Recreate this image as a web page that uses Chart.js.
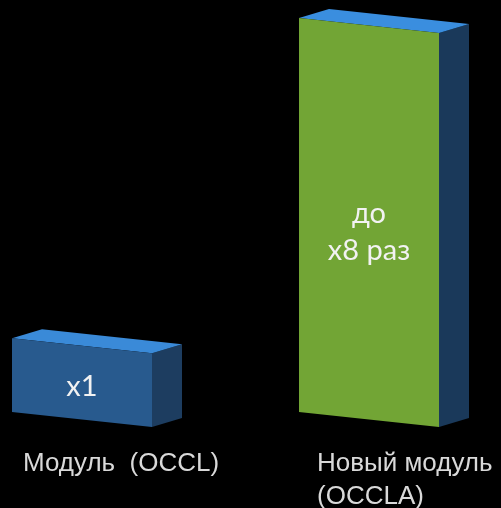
<!DOCTYPE html>
<html>
<head>
<meta charset="utf-8">
<script src="https://cdn.jsdelivr.net/npm/chart.js@4"></script>
<style>
  html, body { margin: 0; padding: 0; background: #000; }
  #wrap { width: 501px; height: 508px; }
</style>
</head>
<body>
<div id="wrap"><canvas id="myChart"></canvas></div>
<script>
// data
const categories = [["Модуль  (OCCL)"], ["Новый модуль", "(OCCLA)"]];
const values = [1.5, 8];
const barTexts = [["x1"], ["до", "x8 раз"]];

const frontColors = ["#285a8e", "#72a535"];
const topColors = ["#3a8ad8", "#3a8edf"];
const sideColors = ["#1d3d60", "#1a395a"];

// draws each bar as a little box: front, top and side faces
const boxPlugin = {
  id: "box3d",
  afterDatasetsDraw(chart) {
    const ctx = chart.ctx;
    const meta = chart.getDatasetMeta(0);
    const dx = 30, dy = -9, slant = 15;

    meta.data.forEach((bar, i) => {
      const w = bar.width;
      const l = bar.x - w / 2, r = bar.x + w / 2;
      const t = bar.y, b = bar.base;

      const poly = (pts, color) => {
        ctx.beginPath();
        ctx.moveTo(pts[0][0], pts[0][1]);
        pts.slice(1).forEach(p => ctx.lineTo(p[0], p[1]));
        ctx.closePath();
        ctx.fillStyle = color;
        ctx.fill();
      };

      ctx.save();
      // side
      poly([[r, t + slant], [r + dx, t + slant + dy], [r + dx, b + slant + dy], [r, b + slant]], sideColors[i]);
      // top
      poly([[l, t], [l + dx, t + dy], [r + dx, t + slant + dy], [r, t + slant]], topColors[i]);
      // front
      poly([[l, t], [r, t + slant], [r, b + slant], [l, b]], frontColors[i]);

      // text on the front face
      const lines = barTexts[i];
      const cy = (t + b) / 2 + slant / 2;
      const lh = 37;
      const y0 = cy + (lines.length > 1 ? 10 : 4) - (lines.length - 1) * lh / 2;
      ctx.fillStyle = "#f2f2f2";
      ctx.font = "29px Lato";
      ctx.textAlign = "center";
      ctx.textBaseline = "middle";
      lines.forEach((s, k) => ctx.fillText(s, bar.x, y0 + k * lh));

      // category label under the bar
      ctx.fillStyle = "#d9d9d9";
      ctx.font = "26px 'Liberation Sans', Arial, sans-serif";
      ctx.textAlign = "left";
      ctx.textBaseline = "alphabetic";
      categories[i].forEach((s, k) => ctx.fillText(s, l + (i ? 18 : 11), 471 + k * 33));
      ctx.restore();
    });
  }
};

document.addEventListener("DOMContentLoaded", () => {
  const ctx = document.getElementById("myChart").getContext("2d");
  new Chart(ctx, {
    type: "bar",
    data: {
      labels: categories,
      datasets: [{
        data: values,
        backgroundColor: "rgba(0,0,0,0)",
        barThickness: 140
      }]
    },
    options: {
      responsive: true,
      maintainAspectRatio: false,
      animation: false,
      layout: { padding: { left: 82, right: 132, top: 18, bottom: 96 } },
      plugins: { legend: { display: false }, tooltip: { enabled: false } },
      scales: {
        x: { display: false, offset: false },
        y: { display: false, min: 0, max: 8 }
      }
    },
    plugins: [boxPlugin]
  });
});
</script>
</body>
</html>
